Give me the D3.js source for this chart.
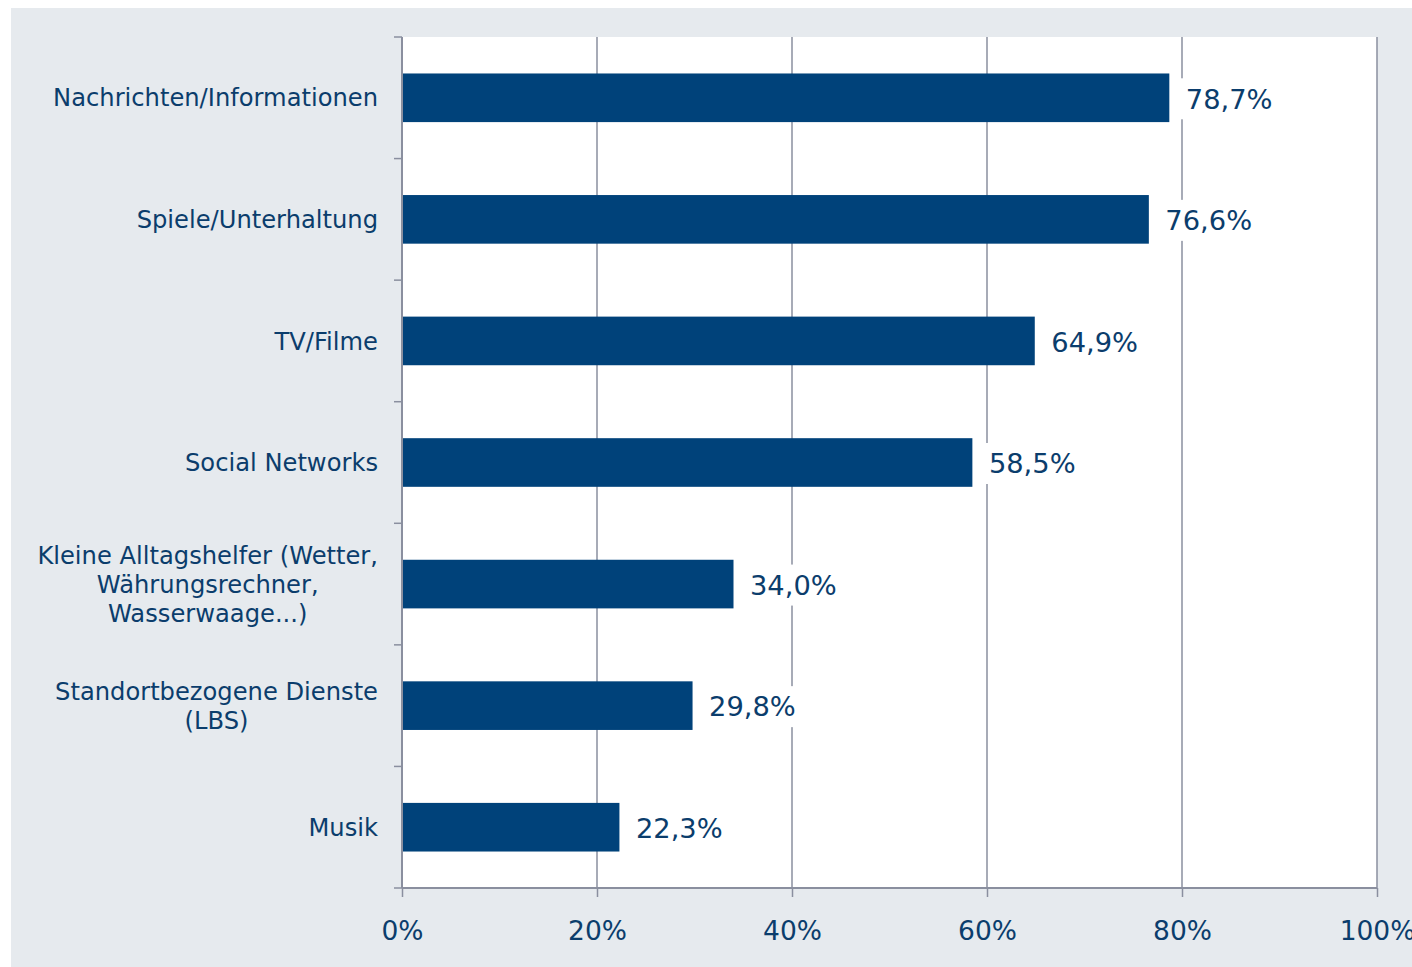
<!DOCTYPE html>
<html lang="de">
<head>
<meta charset="UTF-8">
<title>Nutzung Apps</title>
<style>
  body { margin: 0; background: #fff; }
  svg text { font-family: "DejaVu Sans", Verdana, sans-serif; fill: #0b3d6c; }
</style>
</head>
<body>
<svg id="chart"></svg>
<script src="https://d3js.org/d3.v7.min.js"></script>
<script>
// categories (line breaks as in the original labels)
var categories = [
  "Nachrichten/Informationen",
  "Spiele/Unterhaltung",
  "TV/Filme",
  "Social Networks",
  "Kleine Alltagshelfer (Wetter,\nWährungsrechner,\nWasserwaage...)",
  "Standortbezogene Dienste\n(LBS)",
  "Musik"
];
var values = [78.7, 76.6, 64.9, 58.5, 34.0, 29.8, 22.3];
var xTicks = [0, 20, 40, 60, 80, 100];

var svgWidth = 1412, svgHeight = 967;
var plot = { left: 402, right: 1377, top: 37, bottom: 888 };
var barColor = "#00427a", axisColor = "#8a8f9f";

var svg = d3.select("#chart")
  .attr("width", svgWidth)
  .attr("height", svgHeight);

// outer grey panel + white plot area
svg.append("rect")
  .attr("x", 11).attr("y", 8)
  .attr("width", svgWidth - 11).attr("height", svgHeight - 8)
  .attr("fill", "#e6eaee");
svg.append("rect")
  .attr("x", plot.left).attr("y", plot.top)
  .attr("width", plot.right - plot.left).attr("height", plot.bottom - plot.top)
  .attr("fill", "#fff");

var x = d3.scaleLinear().domain([0, 100]).range([plot.left, plot.right]);
var y = d3.scaleBand().domain(categories).range([plot.top, plot.bottom])
  .paddingInner(0.6).paddingOuter(0.3);

// vertical gridlines
svg.append("g").selectAll("line")
  .data(xTicks.slice(1))
  .join("line")
  .attr("x1", function(d) { return x(d); }).attr("x2", function(d) { return x(d); })
  .attr("y1", plot.top).attr("y2", plot.bottom)
  .attr("stroke", axisColor).attr("stroke-width", 1.5);

// x axis
var xAxis = svg.append("g")
  .attr("transform", "translate(0," + plot.bottom + ")")
  .call(d3.axisBottom(x).tickValues(xTicks).tickSize(9).tickPadding(24)
    .tickFormat(function(d) { return d + "%"; }));
xAxis.select(".domain").attr("stroke", axisColor).attr("stroke-width", 2)
  .attr("d", "M" + plot.left + ",0H" + plot.right);
xAxis.selectAll(".tick line").attr("stroke", axisColor).attr("stroke-width", 1.5);
xAxis.selectAll(".tick text").attr("fill", null)
  .style("font-size", "26.5px").style("font-family", null);

// y axis line and ticks at category boundaries
var boundaries = categories.map(function(c) { return y(c) - y.step() * y.paddingOuter(); });
boundaries.push(plot.bottom);
svg.append("line")
  .attr("x1", plot.left).attr("x2", plot.left)
  .attr("y1", plot.top).attr("y2", plot.bottom)
  .attr("stroke", axisColor).attr("stroke-width", 2);
svg.append("g").selectAll("line")
  .data(boundaries)
  .join("line")
  .attr("x1", plot.left - 8).attr("x2", plot.left)
  .attr("y1", function(d) { return d; }).attr("y2", function(d) { return d; })
  .attr("stroke", axisColor).attr("stroke-width", 1.5);

// bars
svg.append("g").selectAll("rect")
  .data(values)
  .join("rect")
  .attr("x", x(0) + 1)
  .attr("y", function(d, i) { return y(categories[i]); })
  .attr("width", function(d) { return x(d) - x(0) - 1; })
  .attr("height", y.bandwidth())
  .attr("fill", barColor);

// value labels with white boxes
var de = d3.formatLocale({ decimal: ",", thousands: ".", grouping: [3], currency: ["", "€"] });
var fmt = de.format(".1f");
var labels = svg.append("g").selectAll("g")
  .data(values)
  .join("g")
  .attr("transform", function(d, i) {
    return "translate(" + (x(d) + 6) + "," + (y(categories[i]) + y.bandwidth() / 2 + 1) + ")";
  });
labels.append("rect").attr("class", "box").attr("fill", "#fff");
labels.append("text")
  .attr("x", 10.5)
  .attr("dy", "0.36em")
  .style("font-size", "27.3px")
  .text(function(d) { return fmt(d) + "%"; });
labels.each(function() {
  var g = d3.select(this);
  var w = g.select("text").node().getComputedTextLength();
  g.select("rect.box").attr("x", 0).attr("y", -20.5).attr("width", w + 20).attr("height", 41);
});

// category labels (multi-line, centred block right-aligned to the axis)
var lineHeight = 29;
svg.append("g").selectAll("text")
  .data(categories)
  .join("text")
  .style("font-size", "24.2px")
  .attr("text-anchor", "middle")
  .each(function(c) {
    var t = d3.select(this);
    var lines = c.split("\n");
    var cy = y(c) + y.bandwidth() / 2;
    lines.forEach(function(l, k) {
      t.append("tspan")
        .attr("y", cy + (k - (lines.length - 1) / 2) * lineHeight)
        .attr("dy", "0.36em")
        .text(l);
    });
    var maxW = d3.max(t.selectAll("tspan").nodes(), function(n) { return n.getComputedTextLength(); });
    t.selectAll("tspan").attr("x", 378 - maxW / 2);
  });
</script>
</body>
</html>
